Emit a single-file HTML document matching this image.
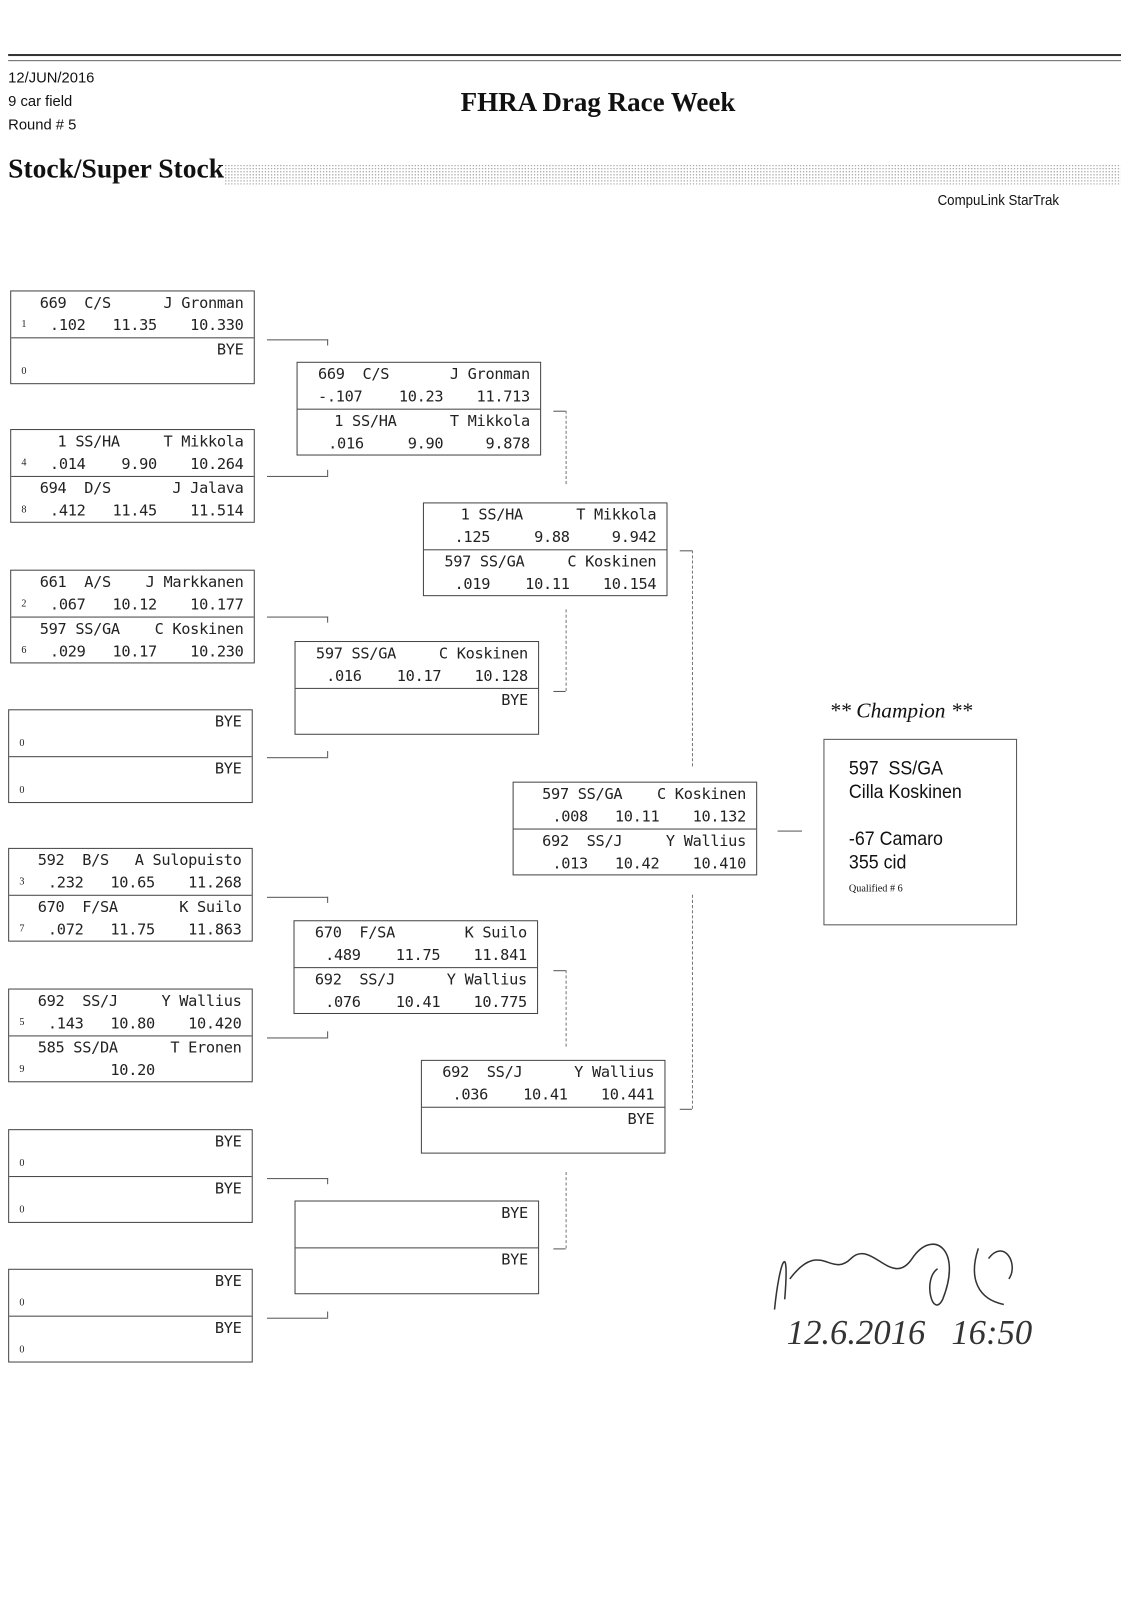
<!DOCTYPE html>
<html><head><meta charset="utf-8">
<style>
body{margin:0;background:#fff;width:1121px;height:1600px;overflow:hidden;}
#w{position:absolute;left:0;top:0;width:1100px;height:1570px;transform:scale(1.0191);transform-origin:0 0;font-family:"DejaVu Sans Mono","Liberation Mono",monospace;color:#222;}
.t{position:absolute;font-family:"Liberation Sans",sans-serif;font-size:14px;color:#111;}
.box{position:absolute;width:240px;height:92px;border:1px solid #444;box-sizing:border-box;}
.h{position:relative;height:45px;}
.h+.h{border-top:1px solid #444;}
.r1,.r2{position:absolute;left:0;right:0;height:22px;font-size:15px;line-height:22px;letter-spacing:-0.3px;}
.r1{top:0}.r2{top:22px}
.r1 span,.r2 span{position:absolute;white-space:pre;}
.a{left:28px}.b{left:78px}.r{right:10px}.s{left:10px;font-family:"Liberation Serif",serif;font-size:10px}.rt{left:38px}.et{right:95px}
.ln{position:absolute;background:#555;}
.dv{position:absolute;width:0;border-left:1px dashed #777;}
</style></head><body><div id="w">
<div class="ln" style="left:8px;top:53px;width:1092px;height:2px;background:#333"></div>
<div class="ln" style="left:8px;top:59px;width:1092px;height:1px;background:#666"></div>
<div class="t" style="left:8px;top:66px;line-height:23px;font-size:14.5px">12/JUN/2016<br>9 car field<br>Round # 5</div>
<div class="t" style="left:452px;top:85px;font-family:'Liberation Serif',serif;font-weight:bold;font-size:26.5px">FHRA Drag Race Week</div>
<div class="t" style="left:8px;top:150px;font-family:'Liberation Serif',serif;font-weight:bold;font-size:27px">Stock/Super Stock</div>
<div style="position:absolute;left:220px;top:161px;width:880px;height:20px;background-image:radial-gradient(#aaa 0.6px,transparent 0.8px);background-size:3px 3px"></div>
<div class="t" style="left:920px;top:189px;font-size:14.5px;transform:scaleX(0.9);transform-origin:0 0">CompuLink StarTrak</div>

<!-- Round 1 -->
<div class="box" style="left:10px;top:285px"><div class="h"><div class="r1"><span class="a">669  C/S</span><span class="r">J Gronman</span></div><div class="r2"><span class="s">1</span><span class="rt">.102</span><span class="et">11.35</span><span class="r">10.330</span></div></div><div class="h"><div class="r1"><span class="r">BYE</span></div><div class="r2"><span class="s">0</span></div></div></div>
<div class="box" style="left:10px;top:421px"><div class="h"><div class="r1"><span class="a">  1 SS/HA</span><span class="r">T Mikkola</span></div><div class="r2"><span class="s">4</span><span class="rt">.014</span><span class="et">9.90</span><span class="r">10.264</span></div></div><div class="h"><div class="r1"><span class="a">694  D/S</span><span class="r">J Jalava</span></div><div class="r2"><span class="s">8</span><span class="rt">.412</span><span class="et">11.45</span><span class="r">11.514</span></div></div></div>
<div class="box" style="left:10px;top:559px"><div class="h"><div class="r1"><span class="a">661  A/S</span><span class="r">J Markkanen</span></div><div class="r2"><span class="s">2</span><span class="rt">.067</span><span class="et">10.12</span><span class="r">10.177</span></div></div><div class="h"><div class="r1"><span class="a">597 SS/GA</span><span class="r">C Koskinen</span></div><div class="r2"><span class="s">6</span><span class="rt">.029</span><span class="et">10.17</span><span class="r">10.230</span></div></div></div>
<div class="box" style="left:8px;top:696px"><div class="h"><div class="r1"><span class="r">BYE</span></div><div class="r2"><span class="s">0</span></div></div><div class="h"><div class="r1"><span class="r">BYE</span></div><div class="r2"><span class="s">0</span></div></div></div>
<div class="box" style="left:8px;top:832px"><div class="h"><div class="r1"><span class="a">592  B/S</span><span class="r">A Sulopuisto</span></div><div class="r2"><span class="s">3</span><span class="rt">.232</span><span class="et">10.65</span><span class="r">11.268</span></div></div><div class="h"><div class="r1"><span class="a">670  F/SA</span><span class="r">K Suilo</span></div><div class="r2"><span class="s">7</span><span class="rt">.072</span><span class="et">11.75</span><span class="r">11.863</span></div></div></div>
<div class="box" style="left:8px;top:970px"><div class="h"><div class="r1"><span class="a">692  SS/J</span><span class="r">Y Wallius</span></div><div class="r2"><span class="s">5</span><span class="rt">.143</span><span class="et">10.80</span><span class="r">10.420</span></div></div><div class="h"><div class="r1"><span class="a">585 SS/DA</span><span class="r">T Eronen</span></div><div class="r2"><span class="s">9</span><span class="et">10.20</span></div></div></div>
<div class="box" style="left:8px;top:1108px"><div class="h"><div class="r1"><span class="r">BYE</span></div><div class="r2"><span class="s">0</span></div></div><div class="h"><div class="r1"><span class="r">BYE</span></div><div class="r2"><span class="s">0</span></div></div></div>
<div class="box" style="left:8px;top:1245px"><div class="h"><div class="r1"><span class="r">BYE</span></div><div class="r2"><span class="s">0</span></div></div><div class="h"><div class="r1"><span class="r">BYE</span></div><div class="r2"><span class="s">0</span></div></div></div>

<!-- Round 2 -->
<div class="box" style="left:291px;top:355px"><div class="h"><div class="r1"><span style="left:20px">669  C/S</span><span class="r">J Gronman</span></div><div class="r2"><span style="left:20px">-.107</span><span class="et">10.23</span><span class="r">11.713</span></div></div><div class="h"><div class="r1"><span class="a" style="left:36px">1 SS/HA</span><span class="r">T Mikkola</span></div><div class="r2"><span class="rt" style="left:30px">.016</span><span class="et">9.90</span><span class="r">9.878</span></div></div></div>
<div class="box" style="left:289px;top:629px"><div class="h"><div class="r1"><span style="left:20px">597 SS/GA</span><span class="r">C Koskinen</span></div><div class="r2"><span style="left:30px">.016</span><span class="et">10.17</span><span class="r">10.128</span></div></div><div class="h"><div class="r1"><span class="r">BYE</span></div></div></div>
<div class="box" style="left:288px;top:903px"><div class="h"><div class="r1"><span style="left:20px">670  F/SA</span><span class="r">K Suilo</span></div><div class="r2"><span style="left:30px">.489</span><span class="et">11.75</span><span class="r">11.841</span></div></div><div class="h"><div class="r1"><span style="left:20px">692  SS/J</span><span class="r">Y Wallius</span></div><div class="r2"><span style="left:30px">.076</span><span class="et">10.41</span><span class="r">10.775</span></div></div></div>
<div class="box" style="left:289px;top:1178px"><div class="h"><div class="r1"><span class="r">BYE</span></div></div><div class="h"><div class="r1"><span class="r">BYE</span></div></div></div>

<!-- Round 3 -->
<div class="box" style="left:415px;top:493px"><div class="h"><div class="r1"><span style="left:36px">1 SS/HA</span><span class="r">T Mikkola</span></div><div class="r2"><span style="left:30px">.125</span><span class="et">9.88</span><span class="r">9.942</span></div></div><div class="h"><div class="r1"><span style="left:20px">597 SS/GA</span><span class="r">C Koskinen</span></div><div class="r2"><span style="left:30px">.019</span><span class="et">10.11</span><span class="r">10.154</span></div></div></div>
<div class="box" style="left:413px;top:1040px"><div class="h"><div class="r1"><span style="left:20px">692  SS/J</span><span class="r">Y Wallius</span></div><div class="r2"><span style="left:30px">.036</span><span class="et">10.41</span><span class="r">10.441</span></div></div><div class="h"><div class="r1"><span class="r">BYE</span></div></div></div>

<!-- Round 4 -->
<div class="box" style="left:503px;top:767px"><div class="h"><div class="r1"><span style="left:28px">597 SS/GA</span><span class="r">C Koskinen</span></div><div class="r2"><span style="left:38px">.008</span><span class="et">10.11</span><span class="r">10.132</span></div></div><div class="h"><div class="r1"><span style="left:28px">692  SS/J</span><span class="r">Y Wallius</span></div><div class="r2"><span style="left:38px">.013</span><span class="et">10.42</span><span class="r">10.410</span></div></div></div>

<!-- Champion -->
<div class="t" style="left:814px;top:685px;font-family:'Liberation Serif',serif;font-style:italic;font-size:21px">** Champion **</div>
<div style="position:absolute;left:808px;top:725px;width:190px;height:183px;border:1px solid #555;box-sizing:border-box"></div>
<div class="t" style="left:833px;top:743px;font-size:19px;line-height:23px;transform:scaleX(0.92);transform-origin:0 0">597&nbsp; SS/GA<br>Cilla Koskinen<br><br>-67 Camaro<br>355 cid</div>
<div class="t" style="left:833px;top:867px;font-family:'Liberation Serif',serif;font-size:10px">Qualified # 6</div>

<!-- connectors -->
<div class="ln" style="left:262px;top:333px;width:60px;height:1px"></div><div class="ln" style="left:321px;top:333px;width:1px;height:6px"></div>
<div class="ln" style="left:262px;top:467px;width:60px;height:1px"></div><div class="ln" style="left:321px;top:461px;width:1px;height:6px"></div>
<div class="ln" style="left:262px;top:605px;width:60px;height:1px"></div><div class="ln" style="left:321px;top:605px;width:1px;height:6px"></div>
<div class="ln" style="left:262px;top:743px;width:60px;height:1px"></div><div class="ln" style="left:321px;top:737px;width:1px;height:6px"></div>
<div class="ln" style="left:262px;top:880px;width:60px;height:1px"></div><div class="ln" style="left:321px;top:880px;width:1px;height:6px"></div>
<div class="ln" style="left:262px;top:1018px;width:60px;height:1px"></div><div class="ln" style="left:321px;top:1012px;width:1px;height:6px"></div>
<div class="ln" style="left:262px;top:1156px;width:60px;height:1px"></div><div class="ln" style="left:321px;top:1156px;width:1px;height:6px"></div>
<div class="ln" style="left:262px;top:1293px;width:60px;height:1px"></div><div class="ln" style="left:321px;top:1287px;width:1px;height:6px"></div>

<div class="ln" style="left:543px;top:403px;width:12px;height:1px"></div><div class="dv" style="left:555px;top:403px;height:72px"></div>
<div class="dv" style="left:555px;top:598px;height:80px"></div><div class="ln" style="left:543px;top:678px;width:12px;height:1px"></div>
<div class="ln" style="left:543px;top:952px;width:12px;height:1px"></div><div class="dv" style="left:555px;top:952px;height:75px"></div>
<div class="dv" style="left:555px;top:1150px;height:75px"></div><div class="ln" style="left:543px;top:1225px;width:12px;height:1px"></div>

<div class="ln" style="left:667px;top:540px;width:12px;height:1px"></div><div class="dv" style="left:679px;top:540px;height:212px"></div>
<div class="dv" style="left:679px;top:878px;height:210px"></div><div class="ln" style="left:667px;top:1088px;width:12px;height:1px"></div>
<div class="ln" style="left:763px;top:815px;width:24px;height:1px"></div>

<!-- signature -->
<svg style="position:absolute;left:745px;top:1195px" width="300" height="150"><path d="M15 90 C20 40 30 20 25 80 M30 60 C60 20 70 60 90 40 C110 20 130 70 150 40 C170 10 200 30 180 80 C170 100 160 60 175 50 M215 30 C205 60 215 80 240 85 M225 40 C240 20 255 45 245 60" stroke="#333" fill="none" stroke-width="1.5"/></svg>
<div class="t" style="left:772px;top:1290px;font-family:'Liberation Serif',serif;font-style:italic;font-size:34px;color:#333">12.6.2016&nbsp;&nbsp; 16:50</div>
</div></body></html>
